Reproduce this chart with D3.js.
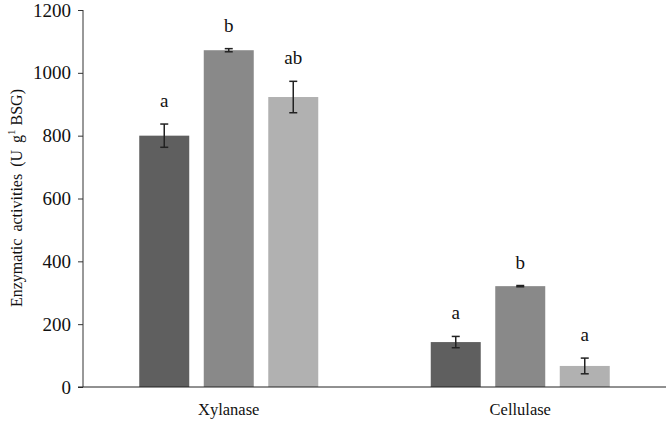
<!DOCTYPE html>
<html><head><meta charset="utf-8">
<script src="https://cdn.jsdelivr.net/npm/d3@7"></script>
<style>body{margin:0;background:#fff}svg{display:block}text{font-family:"Liberation Serif","Times New Roman",serif;fill:#111}</style>
</head><body><svg id="c" width="666" height="422"></svg>
<script>
const categories = ["Xylanase", "Cellulase"];
const series = ["s1", "s2", "s3"];
const values = [[800, 1072, 923], [143, 321, 67]];
const errors = [[37, 5, 50], [18, 2, 25]];
const letters = [["a", "b", "ab"], ["a", "b", "a"]];
const yTicks = [0, 200, 400, 600, 800, 1000, 1200];
const colors = ["#5f5f5f", "#898989", "#b1b1b1"];

const svg = d3.select("#c");
const m = {l: 83, r: 0, t: 10, b: 35};
const W = 666, H = 422;
const y = d3.scaleLinear().domain([0, 1200]).range([387, 10]);
const x0 = d3.scaleBand().domain(categories).range([m.l, W]).padding(0);
const x1 = d3.scaleBand().domain(series).range([0, x0.bandwidth()]).paddingInner(0.225).paddingOuter(0.872);

const data = [];
categories.forEach((c, i) => series.forEach((s, j) => data.push({c, s, j, v: values[i][j], e: errors[i][j], l: letters[i][j]})));

const g = svg.append("g");
g.selectAll("rect").data(data).enter().append("rect")
  .attr("x", d => x0(d.c) + x1(d.s)).attr("width", x1.bandwidth())
  .attr("y", d => y(d.v)).attr("height", d => y(0) - y(d.v))
  .attr("fill", d => colors[d.j]);

const eb = g.selectAll("g.eb").data(data).enter().append("g").attr("stroke", "#222").attr("stroke-width", 1.5);
const cx = d => x0(d.c) + x1(d.s) + x1.bandwidth() / 2;
eb.append("line").attr("x1", cx).attr("x2", cx).attr("y1", d => y(d.v + d.e)).attr("y2", d => y(d.v - d.e));
eb.append("line").attr("x1", d => cx(d) - 4).attr("x2", d => cx(d) + 4).attr("y1", d => y(d.v + d.e)).attr("y2", d => y(d.v + d.e));
eb.append("line").attr("x1", d => cx(d) - 4).attr("x2", d => cx(d) + 4).attr("y1", d => y(d.v - d.e)).attr("y2", d => y(d.v - d.e));

g.selectAll("text.lt").data(data).enter().append("text")
  .attr("x", cx).attr("y", d => y(d.v + d.e) - 17)
  .attr("text-anchor", "middle").attr("font-size", 19).text(d => d.l);

const ya = svg.append("g").attr("transform", `translate(${m.l},0)`)
  .call(d3.axisLeft(y).tickValues(yTicks).tickSize(5).tickPadding(7).tickFormat(d3.format("d")));
ya.select(".domain").attr("stroke", "#333").attr("d", `M0,${y(1200)}V${y(0)}`);
ya.selectAll(".tick line").attr("stroke", "#333");
ya.selectAll(".tick text").attr("font-size", 19).attr("font-family", "Liberation Serif, serif").attr("fill", "#111");

const xa = svg.append("g").attr("transform", `translate(0,${y(0)})`)
  .call(d3.axisBottom(x0).tickSize(0).tickPadding(16));
xa.select(".domain").attr("stroke", "#222").attr("d", `M${m.l - 5},0H${W}`);
xa.selectAll(".tick text").attr("font-size", 16.5).attr("font-family", "Liberation Serif, serif").attr("fill", "#111");

const lab = svg.append("text").attr("transform", "translate(22,198) rotate(-90)")
  .attr("text-anchor", "middle").attr("font-size", 16);
lab.append("tspan").attr("word-spacing", 3).text("Enzymatic activities (U g");
lab.append("tspan").attr("dy", -7).attr("font-size", 11).text("1");
lab.append("tspan").attr("dy", 7).text(" BSG)");
</script></body></html>
